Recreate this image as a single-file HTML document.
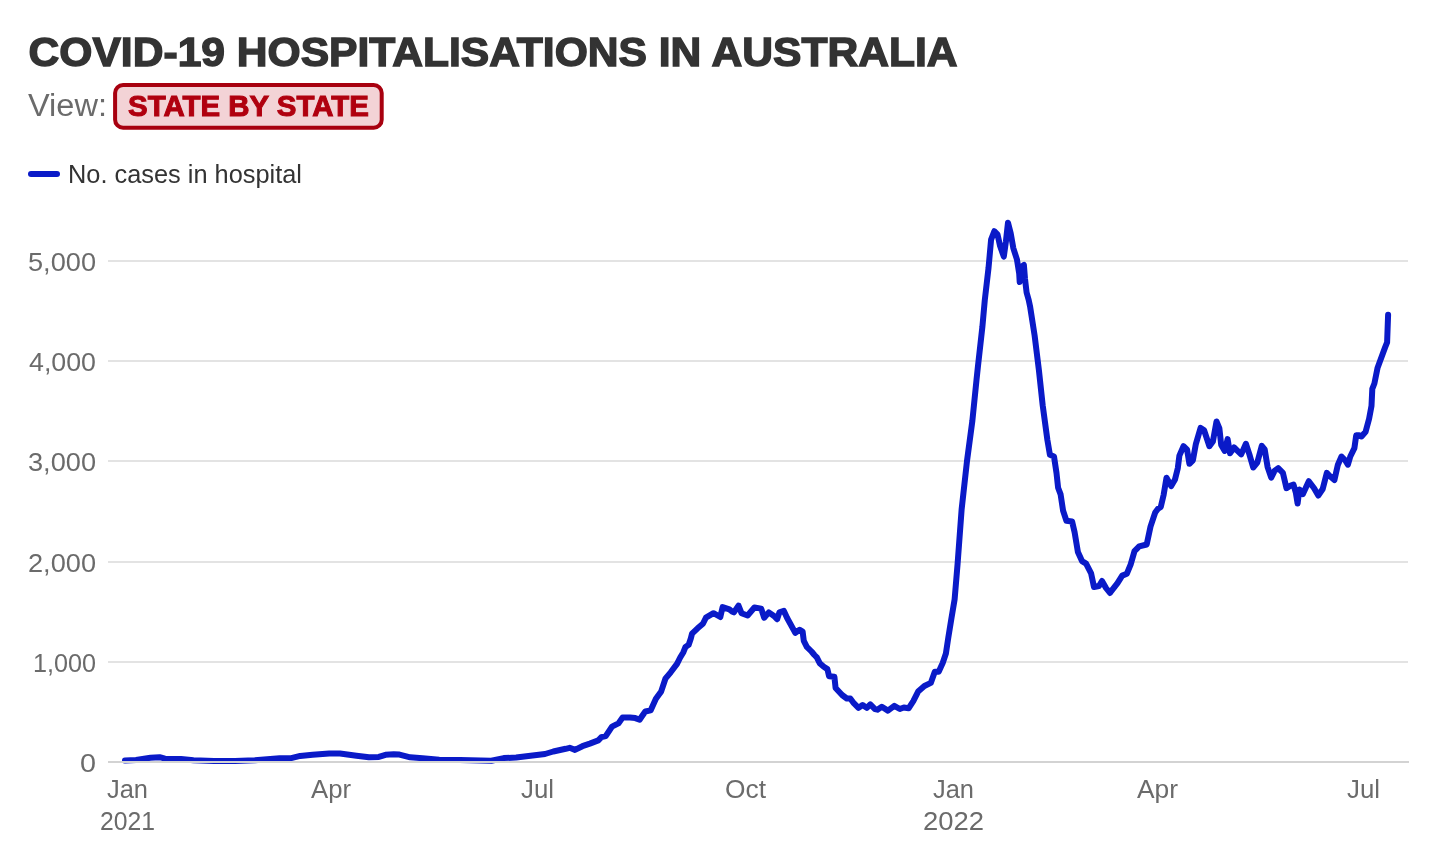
<!DOCTYPE html>
<html><head><meta charset="utf-8">
<style>
html,body{margin:0;padding:0;background:#fff;width:1452px;height:850px;overflow:hidden}
svg{display:block;will-change:transform}
text{font-family:"Liberation Sans",sans-serif}
</style></head>
<body>
<svg width="1452" height="850" viewBox="0 0 1452 850">
<g font-weight="bold" fill="#333" stroke="#333" stroke-width="1.4"><text x="28.60" y="66.00" font-size="41.00" textLength="929.00" lengthAdjust="spacingAndGlyphs">COVID-19 HOSPITALISATIONS IN AUSTRALIA</text></g>
<g fill="#6b6b6b"><text x="28.00" y="116.00" font-size="31.00" textLength="79.00" lengthAdjust="spacingAndGlyphs">View:</text></g>
<rect x="115.1" y="85" width="266.6" height="42.7" rx="8" ry="8" fill="#f3d3d6" stroke="#a8000f" stroke-width="4"/>
<g font-weight="bold" fill="#b0000f" stroke="#b0000f" stroke-width="1.0"><text x="128.00" y="115.60" font-size="29.00" textLength="241.00" lengthAdjust="spacingAndGlyphs">STATE BY STATE</text></g>
<line x1="31" y1="174" x2="57" y2="174" stroke="#0a1ac8" stroke-width="6" stroke-linecap="round"/>
<g fill="#333"><text x="68.00" y="183.00" font-size="25.50" textLength="234.00" lengthAdjust="spacingAndGlyphs">No. cases in hospital</text></g>
<g fill="#e3e3e3">
<rect x="108" y="260" width="1300" height="2"/>
<rect x="108" y="360" width="1300" height="2"/>
<rect x="108" y="460" width="1300" height="2"/>
<rect x="108" y="561" width="1300" height="2"/>
<rect x="108" y="661" width="1300" height="2"/>
</g>
<g fill="#6b6b6b">
<text x="28.00" y="270.70" font-size="25.00" textLength="68.00" lengthAdjust="spacingAndGlyphs">5,000</text>
<text x="29.00" y="370.70" font-size="25.00" textLength="67.00" lengthAdjust="spacingAndGlyphs">4,000</text>
<text x="28.00" y="470.70" font-size="25.00" textLength="68.00" lengthAdjust="spacingAndGlyphs">3,000</text>
<text x="28.00" y="571.70" font-size="25.00" textLength="68.00" lengthAdjust="spacingAndGlyphs">2,000</text>
<text x="33.00" y="671.60" font-size="25.00" textLength="63.00" lengthAdjust="spacingAndGlyphs">1,000</text>
<text x="80.00" y="771.80" font-size="25.00" textLength="16.00" lengthAdjust="spacingAndGlyphs">0</text>
</g>
<path d="M125,760.5 L136,759.9 L150.5,757.8 L159.6,757.2 L165,758.7 L181,759.1 L193.5,760.3 L214,761 L235,761 L254.8,760.3 L279.6,758.2 L291.2,758.2 L300.2,755.9 L312.6,754.8 L329.2,753.6 L340,753.6 L356.5,755.7 L368.9,757.3 L378.8,756.9 L385.5,754.8 L393.7,754.2 L399.5,754.6 L410.2,757.3 L422.6,758.2 L439.2,759.7 L460,760.1 L491.3,760.7 L503.7,758.1 L516.1,757.5 L532.6,755.6 L545,754 L553.3,751.5 L565.7,748.8 L569.7,747.8 L575,749.9 L582.4,746.2 L589.8,743.6 L598.3,740.4 L601.4,737.2 L605.7,736.1 L612,726.6 L618.4,723.4 L622.6,717.6 L630,717.6 L635.3,718.1 L639.6,719.7 L641.6,716.8 L645.3,711.5 L650.6,710.4 L655.9,698.8 L661.2,691.4 L665.4,678.7 L670.7,672.3 L677,663.9 L680.2,657.5 L683.4,652.2 L685.5,646.9 L688.7,644.8 L690.8,638.5 L692,633.7 L697.6,628.3 L702.9,623.8 L705.9,617.7 L713.5,613.2 L720.3,617 L722.6,607.1 L729.4,609.4 L732,611.5 L733.9,612.4 L738.5,605.6 L741.5,613.2 L747.6,615.5 L754.4,607.5 L761.2,608.6 L764.2,617.7 L768.8,612.4 L774,616 L777.1,619.2 L779.4,612.4 L783.9,610.9 L787,617.7 L795.3,632.9 L799.7,629.7 L802.6,631.5 L803.8,640.9 L806.8,646.8 L811.5,651.5 L814.4,655 L816.8,657.4 L819.7,663.2 L823.8,666.8 L827.4,669.1 L829.1,676.2 L834.4,676.8 L835.6,688 L842.1,695 L846.8,698.5 L850.3,698.5 L853.8,703.2 L858.5,707.9 L862.6,705 L866.8,707.9 L870.3,704.4 L875,709.1 L877.4,709.7 L881.8,706.8 L887.9,710.6 L894.3,705.9 L899.8,709 L903.8,707.5 L908.6,708.3 L913.3,701.1 L918.1,691.6 L924.4,686 L930.8,682.9 L934.8,671.7 L938.7,671.7 L942.7,663 L945.9,653.5 L948.3,637.6 L951.4,618.6 L954.6,599.5 L957.6,563.8 L961.6,509.7 L967,461 L972.4,420.5 L976.5,380 L978,365.9 L982.4,326.7 L984.8,300 L988.5,268.2 L991.1,239.6 L994.3,231.2 L997.5,234.3 L1000.1,246 L1003.8,256.6 L1005.9,241.7 L1008,222.7 L1010.7,233.3 L1013.3,248.1 L1017,259.7 L1019.2,273.5 L1019.7,282 L1022.3,266.1 L1023.9,265 L1025,278.8 L1026.6,292.5 L1028.7,300 L1030.2,307.2 L1034.6,335.4 L1038.9,370.2 L1042.7,405.4 L1047.4,440 L1049.9,454.8 L1054,456.5 L1056.5,473 L1058.1,487.8 L1060.6,494.4 L1063.1,510.8 L1066.4,520.7 L1072.1,521.5 L1074.6,532.3 L1077.9,552 L1082,561.1 L1086.1,563.6 L1091.1,573.4 L1094,587 L1099,586 L1102,581 L1106,588 L1110,593 L1110.9,591.6 L1117.5,583.1 L1122.2,575.6 L1126.9,573.7 L1130.7,564.3 L1134.5,551.1 L1139.2,546.4 L1146.7,544.5 L1150.5,526.6 L1155.2,512.5 L1158,508.7 L1160.8,506.9 L1163.7,494.6 L1166.5,477.7 L1171.2,486.1 L1175,479.5 L1177.8,468.2 L1179.4,455.6 L1183.5,446.2 L1187.1,449.7 L1189.4,463.8 L1192.9,460.3 L1195.9,443.8 L1200.6,427.9 L1204.1,430.3 L1209.4,446.2 L1212.9,441.5 L1216.5,421.5 L1219.4,428.5 L1221.2,445 L1224.7,450.9 L1227.6,439.1 L1230,453.2 L1234.1,447.4 L1237.6,450.9 L1241.2,454.4 L1245.9,443.8 L1249.4,454.4 L1253.2,467.5 L1257.3,462.5 L1261.8,445.9 L1264.7,449.4 L1267.6,467.1 L1271.2,477.6 L1274.7,470.6 L1278.2,468.2 L1282.9,472.9 L1286.5,488.2 L1290,485.9 L1293.5,484.7 L1295.9,492.9 L1297.6,503.5 L1299.4,489.4 L1302.9,494.1 L1308.8,481.2 L1314.1,488.2 L1318.3,495.5 L1322.7,489 L1326.8,472.9 L1330.3,476.5 L1334.4,480 L1337.9,464.7 L1341.5,456.5 L1345,460 L1347.9,464.7 L1350.3,456.5 L1354.4,448.2 L1356.2,435.3 L1359.1,435.3 L1361.5,436.5 L1365.6,431.8 L1369.1,418.8 L1371.5,405.9 L1372.3,388.8 L1374.4,383.5 L1377.6,367.7 L1385,347.6 L1387.1,342.3 L1388.1,314.8" fill="none" stroke="#0a1ac8" stroke-width="6" stroke-linejoin="round" stroke-linecap="round"/>
<rect x="108" y="761" width="1301" height="2" fill="#d3d3d3"/>
<g fill="#6b6b6b">
<text x="107.00" y="797.80" font-size="25.40" textLength="41.00" lengthAdjust="spacingAndGlyphs">Jan</text>
<text x="100.00" y="829.70" font-size="25.40" textLength="55.00" lengthAdjust="spacingAndGlyphs">2021</text>
<text x="311.00" y="797.80" font-size="25.40" textLength="40.00" lengthAdjust="spacingAndGlyphs">Apr</text>
<text x="521.00" y="797.80" font-size="25.40" textLength="33.00" lengthAdjust="spacingAndGlyphs">Jul</text>
<text x="725.00" y="797.80" font-size="25.40" textLength="41.00" lengthAdjust="spacingAndGlyphs">Oct</text>
<text x="933.00" y="797.80" font-size="25.40" textLength="41.00" lengthAdjust="spacingAndGlyphs">Jan</text>
<text x="923.00" y="829.70" font-size="25.40" textLength="61.00" lengthAdjust="spacingAndGlyphs">2022</text>
<text x="1137.00" y="797.80" font-size="25.40" textLength="41.00" lengthAdjust="spacingAndGlyphs">Apr</text>
<text x="1347.00" y="797.80" font-size="25.40" textLength="33.00" lengthAdjust="spacingAndGlyphs">Jul</text>
</g>
</svg>
</body></html>
